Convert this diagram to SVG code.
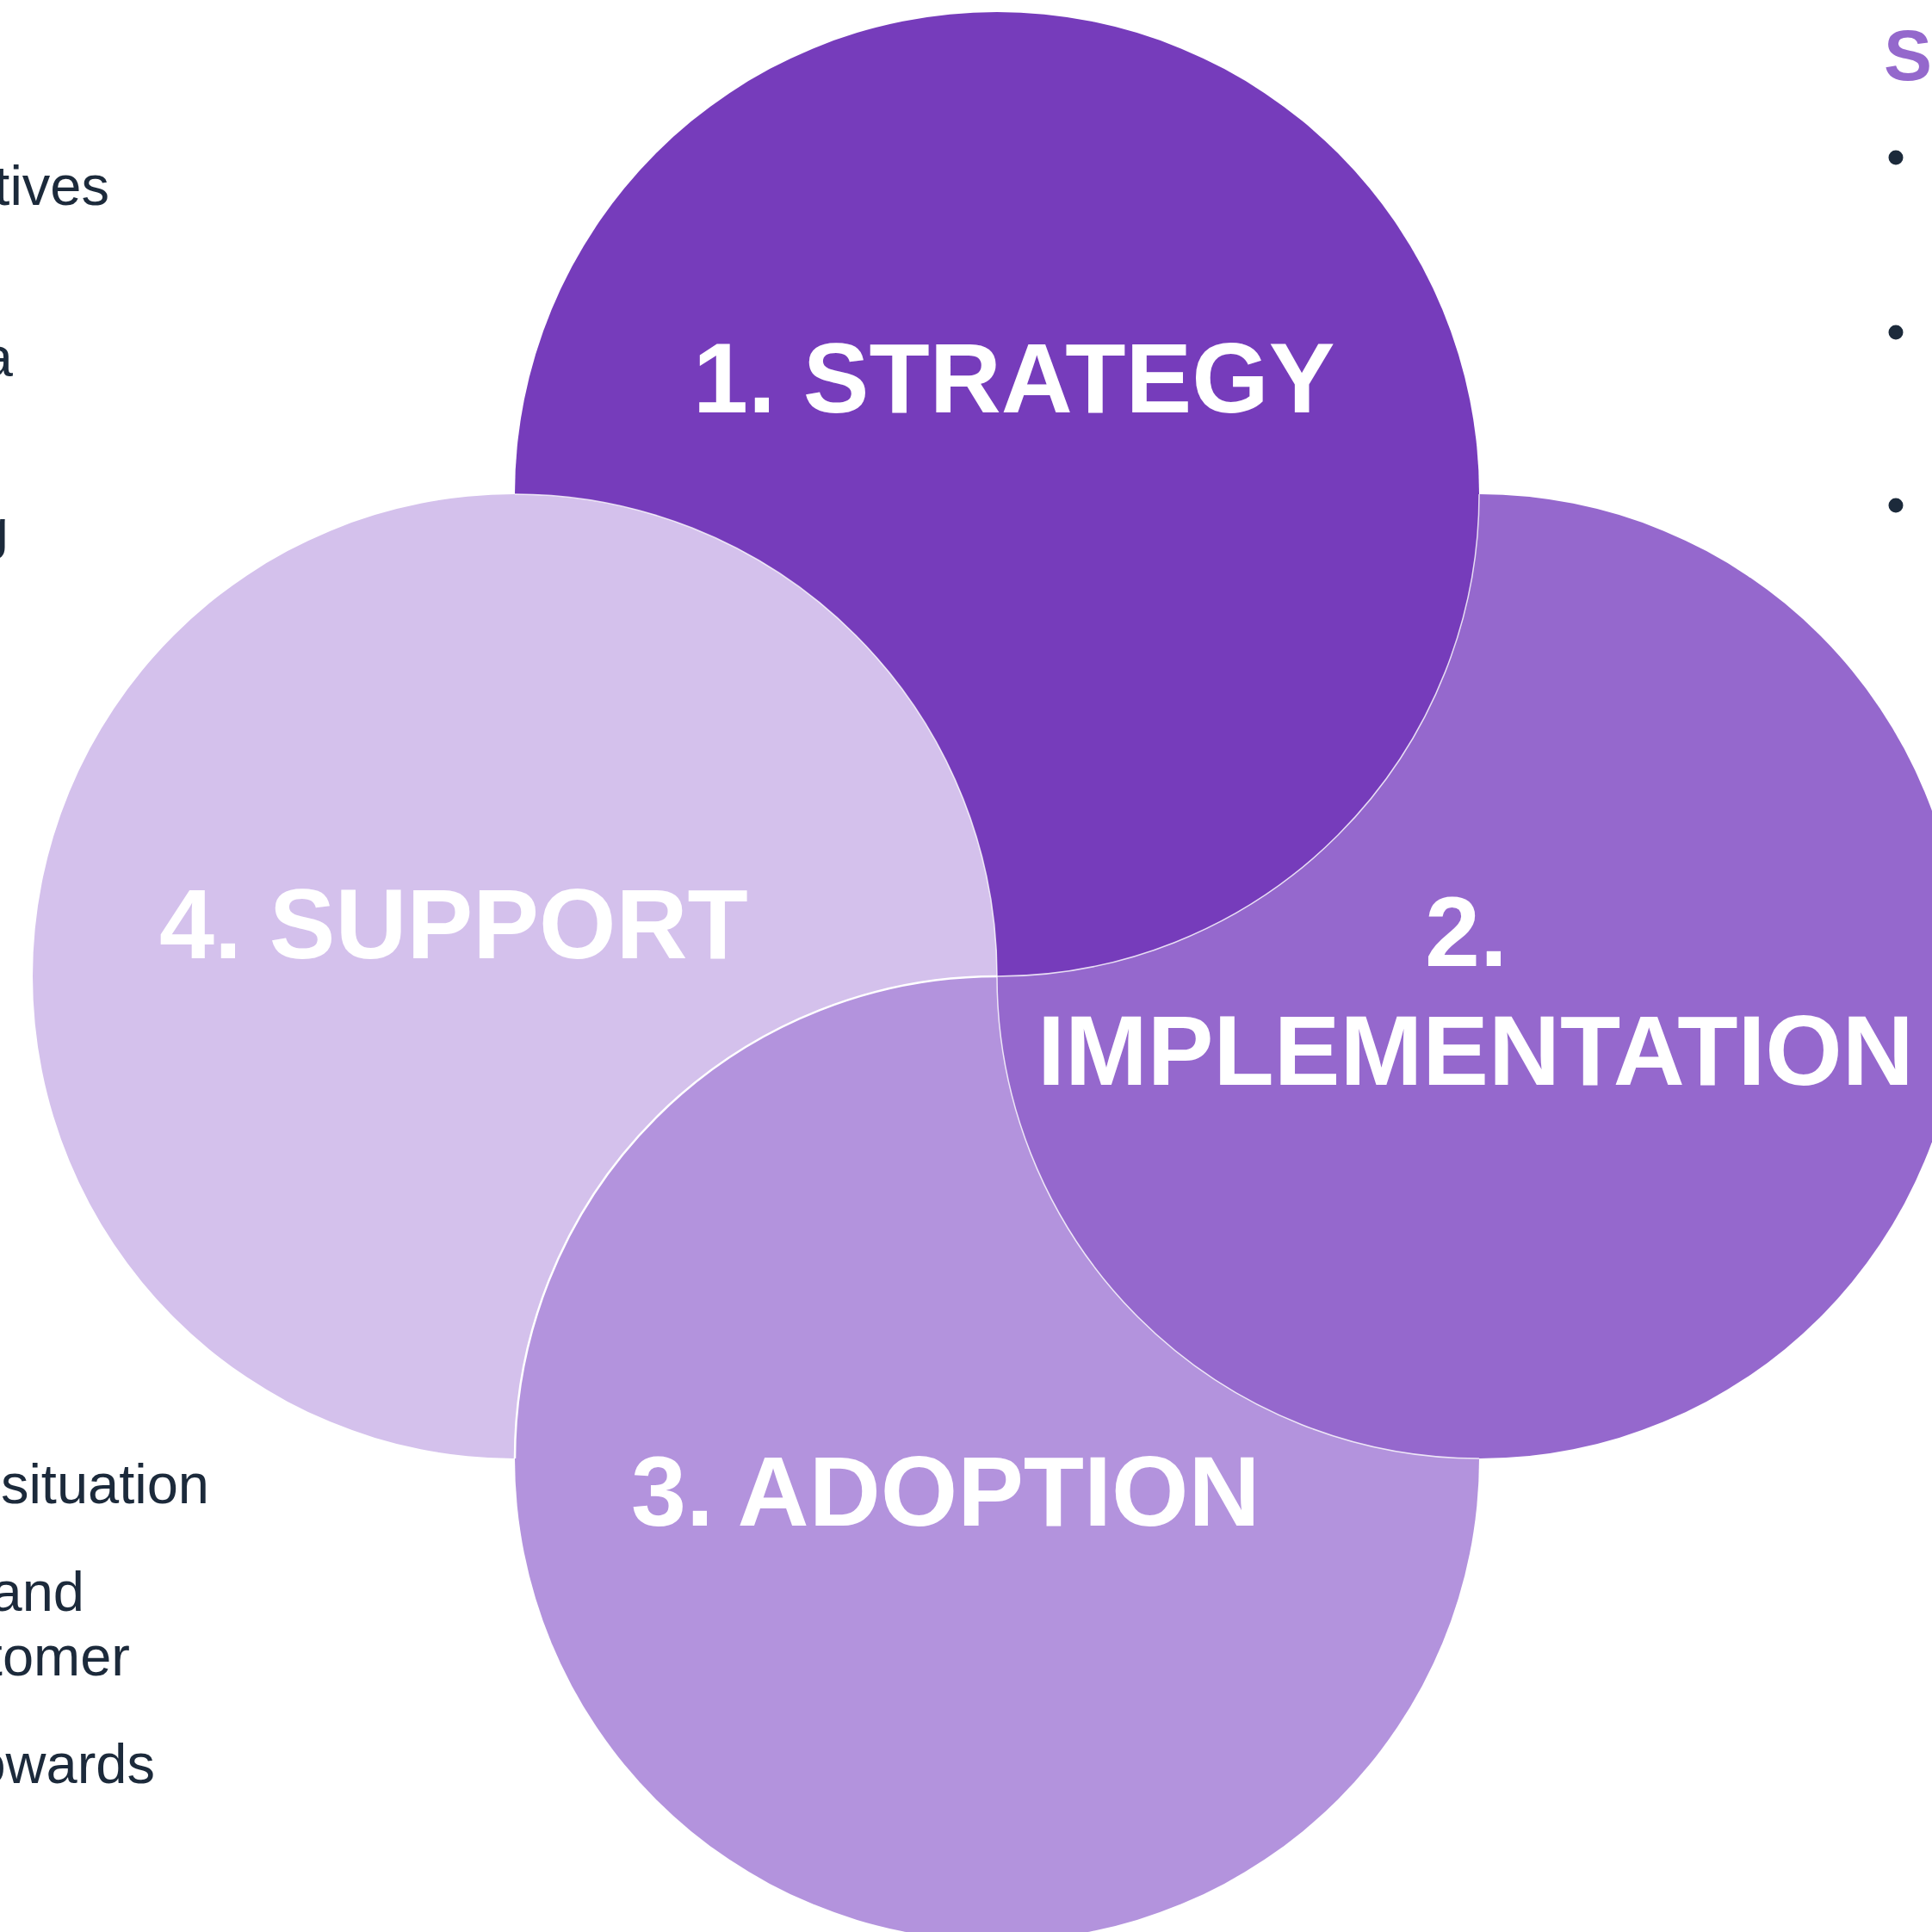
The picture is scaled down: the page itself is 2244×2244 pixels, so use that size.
<svg xmlns="http://www.w3.org/2000/svg" width="2244" height="2244" viewBox="0 0 2244 2244">
<style>
.edge{fill:none;stroke:#ffffff;stroke-width:1.5;stroke-opacity:0.8}
.lbl{font-family:"Liberation Sans",Arial,Helvetica,sans-serif;font-weight:bold;font-size:115px;fill:#ffffff}
.body{font-family:"Liberation Sans",Arial,Helvetica,sans-serif;font-size:65px;fill:#1c2a3b}
.head{font-family:"Liberation Sans",Arial,Helvetica,sans-serif;font-weight:bold;font-size:84px;fill:#9468cc}
</style>
<rect x="0" y="0" width="2244" height="2244" fill="#ffffff"/>
<g id="adoption">
<circle cx="1158" cy="1694" r="560" fill="#b393dd"/>
<text class="lbl" x="733" y="1772">3. ADOPTION</text>
</g>
<g id="implementation">
<circle cx="1718" cy="1134" r="560" fill="#9568cd"/>
<path class="edge" d="M 1158 1134 A 560 560 0 0 0 1718 1694"/>
<text class="lbl" x="1655" y="1122">2.</text>
<text class="lbl" x="1205" y="1260">IMPLEMENTATION</text>
</g>
<g id="strategy">
<circle cx="1158" cy="574" r="560" fill="#763cbb"/>
<path class="edge" d="M 1158 1134 A 560 560 0 0 0 1718 574" stroke-opacity="0.5"/>
<text class="lbl" x="805" y="479">1. STRATEGY</text>
</g>
<g id="support">
<path d="M 1158 1134 A 560 560 0 1 0 598 1694 A 560 560 0 0 1 1158 1134 Z" fill="#d4c1ec"/>
<path class="edge" d="M 598 574 A 560 560 0 0 1 1158 1134" stroke-opacity="0.5"/>
<path d="M 1158 1134 A 560 560 0 0 0 598 1694" fill="none" stroke="#ffffff" stroke-width="2.5"/>
<text class="lbl" x="185" y="1113">4. SUPPORT</text>
</g>
<g id="left-text">
<text class="body" x="127" y="238" text-anchor="end">tives</text>
<text class="body" x="15" y="437" text-anchor="end">a</text>
<text class="body" x="10" y="637" text-anchor="end">g</text>
<text class="body" x="243" y="1746" text-anchor="end">situation</text>
<text class="body" x="98" y="1871" text-anchor="end">and</text>
<text class="body" x="151" y="1946" text-anchor="end">tomer</text>
<text class="body" x="180" y="2071" text-anchor="end">owards</text>
</g>
<g id="right-text">
<text class="head" x="2188" y="93">S</text>
<circle cx="2202" cy="183" r="8.5" fill="#1c2a3b"/>
<circle cx="2202" cy="386" r="8.5" fill="#1c2a3b"/>
<circle cx="2202" cy="587" r="8.5" fill="#1c2a3b"/>
</g>
</svg>
